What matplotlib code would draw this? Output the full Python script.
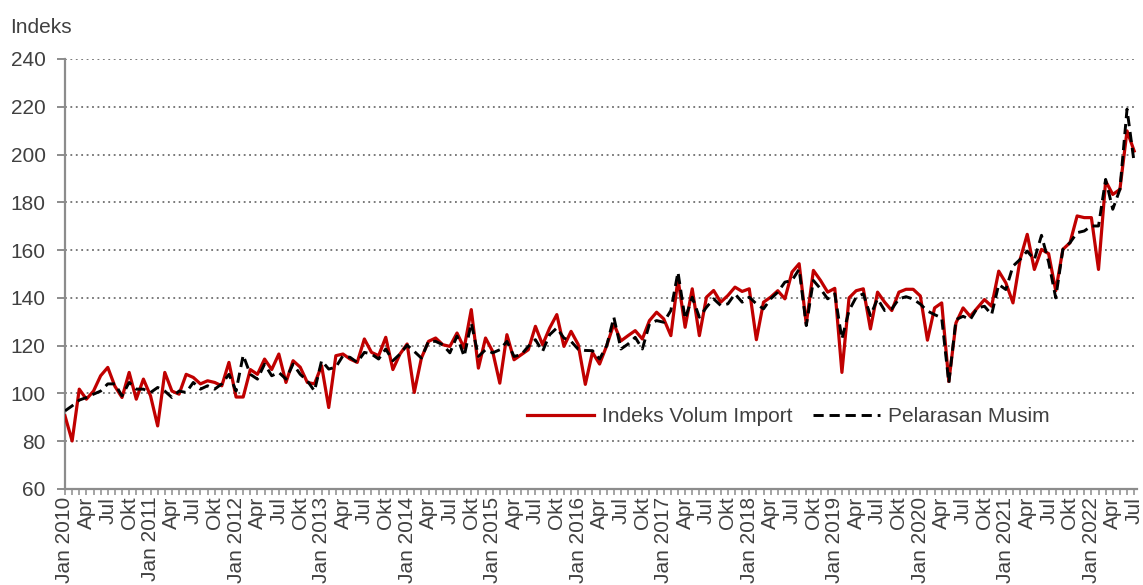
import numpy as np
import matplotlib
matplotlib.use('Agg')
import matplotlib.pyplot as plt
from matplotlib import font_manager

# monthly series, Jan 2010 .. Jul 2022
start_year = 2010
n_months = 151
quarter_names = ['Jan', 'Apr', 'Jul', 'Okt']

volum_import = [
    90.6, 80.1, 101.8, 97.6, 101.0, 107.4, 110.9, 103.0, 98.3, 108.8, 97.6, 106.0,
    99.0, 86.4, 108.8, 101.0, 99.7, 108.0, 106.7, 104.0, 105.3, 104.6, 103.2, 113.0,
    98.5, 98.5, 110.0, 108.0, 114.4, 110.0, 116.5, 104.6, 113.7, 111.0, 104.6, 104.0,
    111.6, 94.1, 115.8, 116.5, 114.4, 113.0, 122.8, 117.2, 115.8, 123.5, 110.0, 116.5,
    120.7, 100.4, 114.8, 121.8, 123.2, 120.4, 119.7, 125.3, 119.0, 135.1, 110.6, 123.2,
    117.6, 104.3, 124.6, 114.1, 116.2, 118.3, 128.1, 120.4, 127.4, 133.0, 119.7, 126.0,
    120.5, 103.8, 117.2, 112.3, 120.0, 129.1, 122.0, 124.2, 126.3, 122.8, 130.5, 134.0,
    131.2, 124.2, 148.0, 127.7, 143.8, 124.2, 140.3, 143.1, 138.2, 141.0, 144.5, 142.7,
    143.8, 122.5, 138.2, 140.3, 143.0, 139.6, 150.8, 154.3, 129.1, 151.5, 147.3, 142.4,
    144.0, 108.8, 140.0, 143.0, 143.8, 127.0, 142.4, 138.2, 134.7, 142.4, 143.6, 143.6,
    140.8, 122.3, 135.8, 137.9, 105.0, 129.5, 135.8, 132.3, 135.8, 139.3, 136.5, 151.2,
    146.3, 137.9, 156.1, 166.6, 151.9, 160.3, 158.5, 143.0, 160.3, 163.1, 174.3, 173.6,
    173.6, 151.9, 188.9, 183.3, 185.4, 209.9, 201.5,
]

pelarasan_musim = [
    92.7, 94.8, 97.2, 98.3, 99.7, 101.0, 104.0, 104.0, 99.0, 104.6, 101.8, 101.8,
    100.4, 102.5, 101.0, 98.3, 101.0, 100.4, 104.6, 101.8, 103.2, 101.8, 104.0, 108.0,
    101.0, 116.0, 108.0, 106.0, 112.3, 107.4, 108.8, 106.0, 112.3, 108.0, 105.3, 101.0,
    113.7, 110.2, 111.0, 115.8, 115.1, 113.0, 117.2, 116.5, 114.4, 118.6, 113.7, 116.5,
    120.2, 117.6, 114.8, 121.8, 121.8, 120.4, 117.0, 124.0, 115.5, 129.5, 115.5, 118.3,
    117.0, 118.3, 121.8, 115.5, 116.2, 119.7, 122.5, 117.6, 124.6, 127.4, 123.2, 121.8,
    118.5, 118.0, 117.9, 114.4, 120.0, 131.9, 118.6, 120.7, 123.5, 118.6, 129.1, 130.5,
    129.8, 134.7, 150.8, 131.2, 140.3, 131.9, 136.1, 139.6, 136.8, 137.5, 141.7, 138.2,
    140.3, 137.5, 135.4, 139.6, 142.4, 146.6, 147.3, 152.0, 128.4, 147.3, 143.8, 139.6,
    141.7, 122.8, 134.7, 140.3, 141.7, 132.6, 139.6, 134.7, 135.4, 139.6, 140.5, 139.5,
    137.4, 134.5, 133.0, 131.6, 104.4, 130.9, 132.3, 130.9, 135.8, 136.5, 133.0, 145.6,
    143.5, 153.3, 156.1, 159.6, 156.0, 166.2, 155.0, 140.0, 160.3, 163.1, 167.3, 168.0,
    170.1, 170.1, 189.6, 177.1, 185.4, 219.0, 196.6,
]

y_ticks = [60, 80, 100, 120, 140, 160, 180, 200, 220, 240]

# font: narrow sans if it is there
names = {f.name for f in font_manager.fontManager.ttflist}
if 'Liberation Sans Narrow' in names:
    family = ['Liberation Sans Narrow', 'DejaVu Sans']
    fs = 17
else:
    family = ['Liberation Sans', 'DejaVu Sans']
    fs = 15
plt.rcParams['font.family'] = family

text_col = '#404040'
axis_col = '#8c8c8c'

x = np.arange(n_months)
labels = []
for i in range(n_months):
    if i % 3 == 0:
        q = quarter_names[(i % 12) // 3]
        labels.append('%s %d' % (q, start_year + i // 12) if q == 'Jan' else q)
    else:
        labels.append('')

fig = plt.figure(figsize=(11.43, 5.85), dpi=100)
ax = fig.add_axes([65 / 1143, 1 - 489 / 585, 1072 / 1143, 430 / 585])

ax.plot(x, volum_import, color='#c00000', lw=2.3, label='Indeks Volum Import', zorder=3)
ax.plot(x, pelarasan_musim, color='black', lw=2.1, ls=(0, (3.5, 2)),
        label='Pelarasan Musim', zorder=4)

ax.set_xlim(0, 150.4)
ax.set_ylim(60, 240)
ax.set_yticks(y_ticks)
ax.set_xticks(x)
ax.set_xticklabels(labels, rotation=90, va='top', ha='center')

for s in ['top', 'right']:
    ax.spines[s].set_visible(False)
for s in ['left', 'bottom']:
    ax.spines[s].set_color(axis_col)
    ax.spines[s].set_linewidth(1.6)

ax.tick_params(axis='y', direction='out', length=6, width=1.4, color=axis_col,
               labelsize=fs, labelcolor=text_col, pad=8)
ax.tick_params(axis='x', direction='out', length=4, width=1.1, color=axis_col,
               labelsize=fs, labelcolor=text_col, pad=1.5)

for v in y_ticks[1:]:
    ax.axhline(v, color='#707070', lw=1.3, ls=(0, (1, 2)), zorder=1)

ax.legend(loc='center left', bbox_to_anchor=(64.8, 90.2), bbox_transform=ax.transData,
          ncol=2, frameon=False, fontsize=fs, handlelength=3.2, handletextpad=0.4,
          columnspacing=1.0, borderpad=0, borderaxespad=0, labelcolor=text_col)

fig.text(10 / 1143, 1 - 33 / 585, 'Indeks', fontsize=fs, color=text_col, va='baseline')

fig.savefig('out.png', dpi=100)
